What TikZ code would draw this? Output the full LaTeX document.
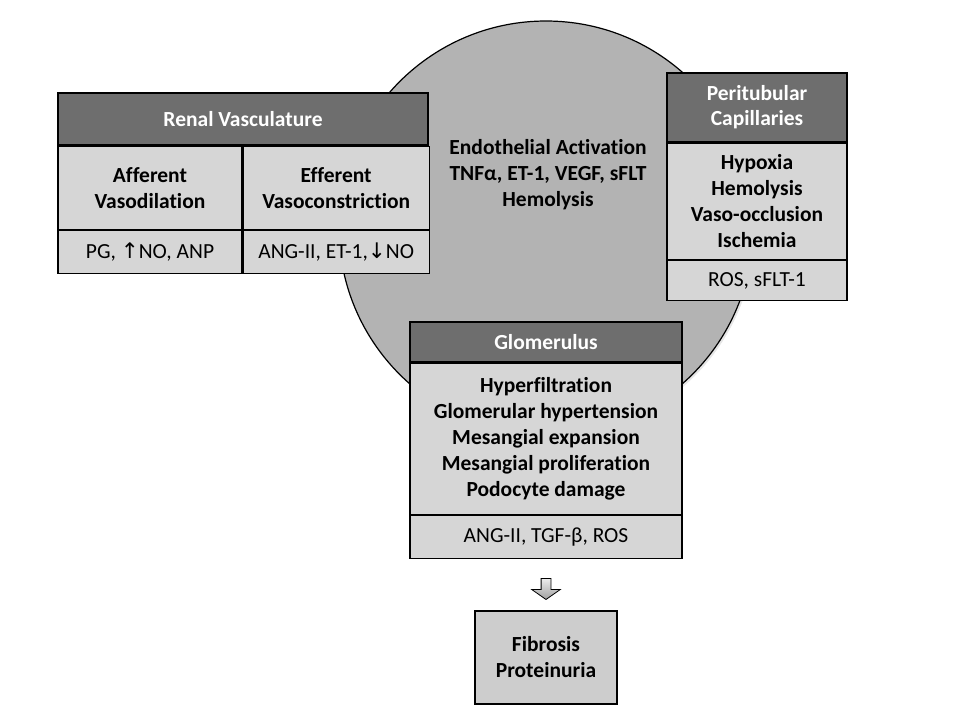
\documentclass[tikz,border=0pt]{standalone}
\usepackage{fontspec}
\setmainfont{Carlito}[Ligatures=NoCommon]
\newfontfamily\arrowfont{DejaVu Sans}
\usetikzlibrary{positioning,calc,shapes.arrows,shadows}
\definecolor{headgray}{HTML}{6E6E6E}
\definecolor{cellgray}{HTML}{D6D6D6}
\definecolor{ballgray}{HTML}{B3B3B3}
\definecolor{fibgray}{HTML}{CDCDCD}
\tikzset{every node/.style={inner sep=0pt, align=center},
  headbox/.style={draw, line width=1.2pt, fill=headgray, text=white,
    font=\fontsize{21.5}{25}\selectfont\bfseries},
  cellbox/.style={draw, line width=1.2pt, fill=cellgray,
    font=\fontsize{21.5}{26}\selectfont\bfseries},
  footbox/.style={draw, line width=1.2pt, fill=cellgray,
    font=\fontsize{21.5}{26}\selectfont}}

\begin{document}
\begin{tikzpicture}[x=1pt,y=-1pt]
\useasboundingbox (0,0) rectangle (972,712);
\node (ball) [circle, draw, line width=1.2pt, fill=ballgray, minimum size=414pt,
  drop shadow={opacity=0.2, shadow xshift=2pt, shadow yshift=-2pt}] at (546,228) {};
\node (endo) [font=\fontsize{21.5}{26}\selectfont\bfseries] at (548,175)
  {Endothelial Activation\\TNFα, ET-1, VEGF, sFLT\\Hemolysis};

\node (renal) [headbox, minimum width=370pt, minimum height=52pt] at (243,119) {Renal Vasculature};
\node (aff) [cellbox, minimum width=184pt, minimum height=83pt,
  below right=0pt and 0pt of renal.south west] {Afferent\\Vasodilation};
\node (eff) [cellbox, minimum width=186pt, minimum height=83pt, right=0pt of aff] {Efferent\\Vasoconstriction};
\node (affnote) [footbox, minimum width=184pt, minimum height=43pt, below=0pt of aff]
  {PG, {\arrowfont↑}NO, ANP};
\node (effnote) [footbox, minimum width=186pt, minimum height=43pt, below=0pt of eff]
  {ANG-II, ET-1,{\arrowfont↓}NO};

\node (peri) [headbox, minimum width=180pt, minimum height=69pt] at (757,107.5) {Peritubular\\Capillaries};
\node (perilist) [cellbox, minimum width=180pt, minimum height=116pt, below=0pt of peri]
  {Hypoxia\\Hemolysis\\Vaso-occlusion\\Ischemia};
\node (perinote) [footbox, minimum width=180pt, minimum height=40pt, below=0pt of perilist] {ROS, sFLT-1};

\node (glom) [headbox, minimum width=272pt, minimum height=40pt] at (546,342) {Glomerulus};
\node (glomlist) [cellbox, minimum width=272pt, minimum height=151pt, below=0pt of glom]
  {Hyperfiltration\\Glomerular hypertension\\Mesangial expansion\\Mesangial proliferation\\Podocyte damage};
\node (glomnote) [footbox, minimum width=272pt, minimum height=43pt, below=0pt of glomlist]
  {ANG-II, TGF-β, ROS};

\node (fib) [cellbox, fill=fibgray, minimum width=142pt, minimum height=93pt] at (546,657.5)
  {Fibrosis\\Proteinuria};
% block arrow between glomerulus and outcome
\node (arr) [single arrow, draw, line width=0.8pt, top color=gray!15, bottom color=gray!75,
  shape border rotate=270, inner sep=4.5pt, minimum height=21pt, single arrow head extend=9.5pt,
  single arrow tip angle=110]
  at ($(glomnote.south)!0.55!(fib.north)$) {};
\end{tikzpicture}
\end{document}
